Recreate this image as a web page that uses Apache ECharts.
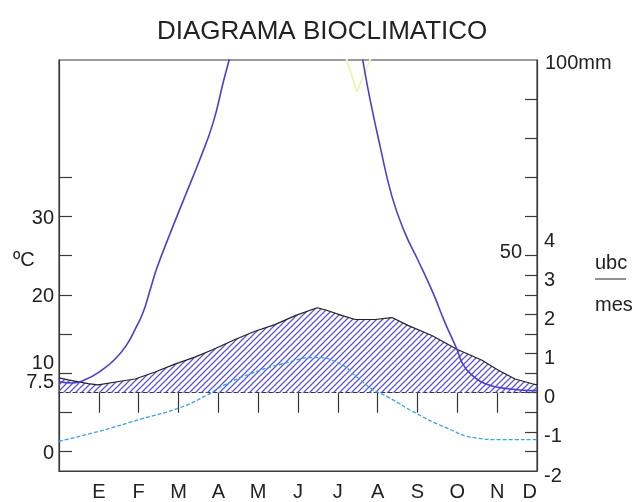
<!DOCTYPE html>
<html><head><meta charset="utf-8">
<script src="https://cdn.jsdelivr.net/npm/echarts@6/dist/echarts.min.js"></script>
<style>html,body{margin:0;padding:0;background:#fff}#c{width:632px;height:502px}</style>
</head><body><div id="c"></div>
<script>
// ---- data ----
const months = ['E','F','M','A','M','J','J','A','S','O','N','D'];
const monthPos = [1,2,3,4,5,6,7,8,9,10,11,12];
const monthTicks = [1,2,3,4,5,6,7,8,9,10,11];
const tempTicks = [0,5,10,15,20,25,30,35];
const tempLabels = [0,7.5,10,20,30];
const mmTicks = [50,60,70,80,90];
const mmLabels = [100];
const mmInnerLabels = [50];
const ubcTicks = [-1.5,-1,-0.5,0,0.5,1,1.5,2,2.5,3];
const ubcLabels = [-2,-1,0,1,2,3,4];

// temperature curve (ºC), x in months
const tempX = [0, 1.03, 2.03, 3.04, 3.72, 4.04, 4.80, 5.62, 6.43, 7.05, 7.48, 7.88, 8.24, 8.99, 9.64, 10.49, 11.07, 12];
const tempY = [1.3, 2.6, 4.1, 5.6, 7.2, 8.2, 9.9, 11.2, 12.0, 11.2, 9.5, 7.9, 7.0, 4.8, 3.2, 1.7, 1.5, 1.5];

// precipitation curve (mm)
const precX = [0, 0.33, 0.65, 1.08, 1.41, 1.71, 1.91, 2.11, 2.28, 2.46, 2.79, 3.16, 3.54, 3.87, 4.12, 4.27, 4.42, 6.0, 7.56, 7.63, 7.81, 8.06, 8.36, 8.69, 9.01, 9.39, 9.69, 9.99, 10.14, 10.37, 10.70, 11.27, 12];
const precY = [17.8, 17.5, 18.3, 20.8, 23.6, 27.4, 31.2, 35.5, 41.0, 46.9, 55.7, 65.1, 74.7, 84.0, 94.2, 100.0, 106.3, 130, 103.8, 99.7, 89.9, 78.0, 65.1, 55.7, 48.9, 40.5, 32.9, 26.1, 22.3, 19.5, 17.3, 16.0, 15.5];

// bioclimatic intensity (ubc/mes)
const ubcX = [0, 0.23, 0.73, 0.98, 1.58, 1.91, 2.41, 2.91, 3.41, 3.84, 4.42, 4.92, 5.42, 5.93, 6.48, 6.68, 7.11, 7.44, 7.93, 8.36, 8.76, 9.36, 9.99, 10.62, 11.02, 11.45, 11.88, 12];
const ubcY = [0.38, 0.33, 0.23, 0.20, 0.30, 0.35, 0.53, 0.73, 0.91, 1.09, 1.36, 1.57, 1.74, 1.97, 2.17, 2.12, 1.97, 1.87, 1.87, 1.92, 1.72, 1.46, 1.11, 0.83, 0.58, 0.35, 0.23, 0.20];

// faint yellow trace near the top (mm)
const yellowX = [7.13, 7.48, 7.93];
const yellowY = [103.0, 91.9, 103.0];

const zip = (a, b) => a.map((v, i) => [v, b[i]]);

function hatch() {
  const c = document.createElement('canvas'); c.width = 6; c.height = 6;
  const g = c.getContext('2d');
  g.strokeStyle = '#5b55dc'; g.lineWidth = 1.25;
  g.beginPath();
  g.moveTo(-1, 7); g.lineTo(7, -1);
  g.moveTo(-1, 1); g.lineTo(1, -1);
  g.moveTo(5, 7); g.lineTo(7, 5);
  g.stroke();
  return c;
}

const FONT = 'Liberation Sans, Arial, sans-serif';
const TXT = '#222';
const AX = '#3a3a3a';

const chart = echarts.init(document.getElementById('c'), null, {renderer: 'canvas'});
chart.setOption({
  animation: false,
  backgroundColor: '#fff',
  textStyle: {fontFamily: FONT},
  title: {
    text: 'DIAGRAMA BIOCLIMATICO', left: 157, top: 19, padding: 0,
    textStyle: {fontSize: 26, fontWeight: 'normal', color: TXT, fontFamily: FONT}
  },
  grid: {left: 59, right: 95, top: 60, bottom: 27, show: true, borderColor: AX, borderWidth: 1.2, backgroundColor: 'transparent'},
  xAxis: [
    {
      type: 'value', min: 0, max: 12, position: 'bottom',
      axisLine: {show: true, onZero: false, lineStyle: {color: AX, width: 1.2}},
      axisTick: {show: false}, splitLine: {show: false},
      axisLabel: {
        customValues: monthPos, formatter: v => months[Math.round(v) - 1],
        fontSize: 20, color: TXT, margin: 11, fontFamily: FONT, alignMaxLabel: 'right'
      }
    },
    {
      type: 'value', min: 0, max: 12, position: 'bottom',
      axisLine: {show: true, onZero: true, onZeroAxisIndex: 2, lineStyle: {color: '#333', width: 1, type: [4, 3]}},
      axisTick: {show: true, customValues: monthTicks, length: 20, inside: false, lineStyle: {color: '#333', width: 1.2}},
      axisLabel: {show: false}, splitLine: {show: false}
    }
  ],
  yAxis: [
    {
      type: 'value', min: -2.5, max: 50, position: 'left',
      axisLine: {show: true, onZero: false, lineStyle: {color: AX, width: 1.2}},
      axisTick: {show: true, inside: true, length: 13, customValues: tempTicks, lineStyle: {color: AX, width: 1.2}},
      axisLabel: {
        customValues: tempLabels, fontSize: 20, color: TXT, margin: 5, fontFamily: FONT,
        formatter: v => (v === 7.5 || v === 10) ? '{u|' + v + '}' : '{n|' + v + '}',
        rich: {
          u: {fontSize: 20, color: TXT, fontFamily: FONT, padding: [0, 0, 20, 0]},
          n: {fontSize: 20, color: TXT, fontFamily: FONT, padding: [4, 0, 0, 0]}
        }
      },
      splitLine: {show: false}
    },
    {
      type: 'value', min: -5, max: 100, position: 'right',
      axisLine: {show: true, onZero: false, lineStyle: {color: AX, width: 1.2}},
      axisTick: {show: true, inside: true, length: 12, customValues: mmTicks, lineStyle: {color: AX, width: 1.2}},
      axisLabel: {
        customValues: mmLabels, formatter: v => '{m|' + v + 'mm}', fontSize: 20, color: TXT, margin: 8, fontFamily: FONT,
        rich: {m: {fontSize: 20, color: TXT, fontFamily: FONT, padding: [6, 0, 0, 0]}}
      },
      splitLine: {show: false}
    },
    {
      type: 'value', min: -2, max: 8.5, position: 'right',
      axisLine: {show: false, onZero: false},
      axisTick: {show: true, inside: true, length: 12, customValues: ubcTicks, lineStyle: {color: AX, width: 1.2}},
      axisLabel: {
        customValues: ubcLabels, fontSize: 20, color: TXT, margin: 7, fontFamily: FONT,
        formatter: v => '{d|' + v + '}',
        rich: {d: {fontSize: 20, color: TXT, fontFamily: FONT, padding: [10, 0, 0, 0]}}
      },
      splitLine: {show: false}
    },
    {
      type: 'value', min: -5, max: 100, position: 'right',
      axisLine: {show: false, onZero: false}, axisTick: {show: false},
      axisLabel: {
        inside: true, customValues: mmInnerLabels, margin: 15, fontSize: 20, color: TXT, fontFamily: FONT,
        formatter: v => '{u|' + v + '}',
        rich: {u: {fontSize: 20, color: TXT, fontFamily: FONT, padding: [0, 0, 6, 0]}}
      },
      splitLine: {show: false}
    }
  ],
  graphic: [
    {type: 'text', left: 13, top: 250, style: {text: 'ºC', fontSize: 20, fill: TXT, fontFamily: FONT}},
    {type: 'text', left: 595, top: 253, style: {text: 'ubc', fontSize: 20, fill: TXT, fontFamily: FONT}},
    {type: 'line', shape: {x1: 595, y1: 279, x2: 626, y2: 279}, style: {stroke: TXT, lineWidth: 1}},
    {type: 'text', left: 595, top: 295, style: {text: 'mes', fontSize: 20, fill: TXT, fontFamily: FONT}}
  ],
  series: [
    {
      name: 'ubc', type: 'line', xAxisIndex: 0, yAxisIndex: 2, data: zip(ubcX, ubcY),
      symbol: 'none', lineStyle: {color: '#222', width: 1.2},
      areaStyle: {color: {image: hatch(), repeat: 'repeat'}, opacity: 1}, z: 2
    },
    {
      name: 'temperatura', type: 'line', xAxisIndex: 0, yAxisIndex: 0, data: zip(tempX, tempY),
      symbol: 'none', smooth: 0.5, lineStyle: {color: '#3aa3e0', width: 1.3, type: [4, 2]}, z: 3
    },
    {
      name: 'amarillo', type: 'line', xAxisIndex: 0, yAxisIndex: 1, data: zip(yellowX, yellowY),
      symbol: 'none', lineStyle: {color: '#f2f4b4', width: 2}, z: 3
    },
    {
      name: 'precipitacion', type: 'line', xAxisIndex: 0, yAxisIndex: 1, data: zip(precX, precY),
      symbol: 'none', smooth: 0.5, lineStyle: {color: '#4a40d0', width: 1.6}, z: 4
    }
  ]
});
</script></body></html>
